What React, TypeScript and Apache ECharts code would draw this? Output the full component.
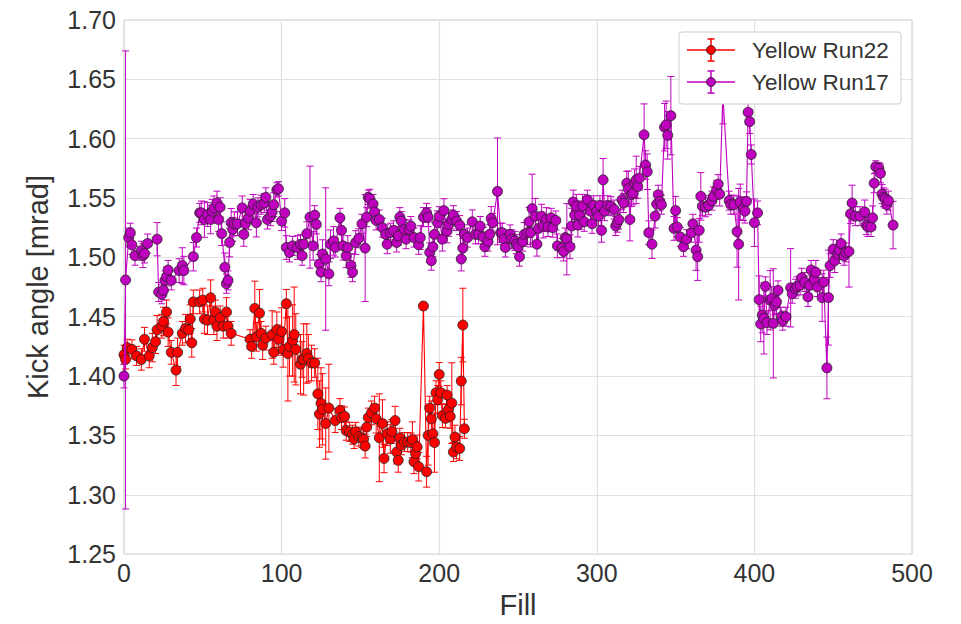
import React, { useEffect, useRef } from "react";
import * as echarts from "echarts";

// [fill, kick angle (mrad), error]
const run22: [number, number, number][] = [
  [0, 1.418, 0.008], [1, 1.414, 0.008], [2, 1.424, 0.007], [5, 1.4225, 0.008], [8, 1.417, 0.008],
  [11, 1.414, 0.009], [13, 1.431, 0.01], [16, 1.417, 0.01], [18, 1.424, 0.012], [20, 1.429, 0.01],
  [21, 1.439, 0.012], [24, 1.442, 0.01], [25, 1.446, 0.012], [27, 1.454, 0.01], [28, 1.437, 0.012],
  [30, 1.42, 0.01], [33, 1.405, 0.013], [34, 1.42, 0.012], [37, 1.436, 0.01], [39, 1.44, 0.012],
  [41, 1.439, 0.01], [42, 1.448, 0.012], [43, 1.428, 0.012], [44, 1.4625, 0.01], [48, 1.4625, 0.01],
  [50, 1.464, 0.01], [51, 1.448, 0.012], [53, 1.447, 0.012], [55, 1.466, 0.015], [57, 1.447, 0.012],
  [58, 1.454, 0.01], [59, 1.442, 0.012], [61, 1.449, 0.01], [63, 1.442, 0.01], [65, 1.454, 0.012],
  [66, 1.442, 0.01], [68, 1.436, 0.01], [80, 1.431, 0.008], [81, 1.425, 0.01], [83, 1.457, 0.023],
  [84, 1.433, 0.012], [86, 1.453, 0.02], [87, 1.436, 0.01], [88, 1.426, 0.012], [90, 1.432, 0.01],
  [94, 1.435, 0.02], [95, 1.42, 0.01], [97, 1.439, 0.015], [98, 1.431, 0.012], [100, 1.4375, 0.02],
  [101, 1.4225, 0.015], [103, 1.461, 0.012], [104, 1.419, 0.04], [105, 1.425, 0.025], [107, 1.43, 0.03],
  [108, 1.435, 0.04], [109, 1.4225, 0.03], [112, 1.41, 0.025], [113, 1.414, 0.015], [114, 1.414, 0.03],
  [116, 1.419, 0.025], [117, 1.415, 0.02], [119, 1.411, 0.015], [121, 1.411, 0.012], [123, 1.385, 0.03],
  [124, 1.368, 0.028], [125, 1.377, 0.03], [126, 1.372, 0.03], [128, 1.36, 0.03], [130, 1.373, 0.037],
  [134, 1.3625, 0.01], [137, 1.371, 0.01], [138, 1.365, 0.01], [140, 1.366, 0.008], [141, 1.354, 0.008],
  [143, 1.353, 0.008], [145, 1.3506, 0.008], [146, 1.347, 0.008], [147, 1.353, 0.008], [149, 1.349, 0.008],
  [151, 1.3478, 0.008], [152, 1.3467, 0.008], [153, 1.341, 0.01], [154, 1.357, 0.008], [155, 1.365, 0.008],
  [157, 1.369, 0.01], [159, 1.373, 0.01], [160, 1.364, 0.012], [162, 1.348, 0.037], [164, 1.36, 0.02],
  [165, 1.3306, 0.012], [167, 1.3514, 0.01], [169, 1.347, 0.012], [170, 1.3533, 0.01], [172, 1.3625, 0.012],
  [173, 1.336, 0.01], [174, 1.329, 0.01], [175, 1.348, 0.008], [176, 1.3417, 0.008], [178, 1.3444, 0.008],
  [180, 1.3444, 0.008], [182, 1.344, 0.008], [183, 1.3464, 0.015], [184, 1.3278, 0.01], [185, 1.3347, 0.01],
  [186, 1.3403, 0.01], [187, 1.3236, 0.012], [190, 1.459, 0.003], [192, 1.3194, 0.013], [193, 1.35, 0.025],
  [194, 1.373, 0.01], [195, 1.364, 0.015], [196, 1.3514, 0.01], [197, 1.344, 0.025], [198, 1.386, 0.01],
  [199, 1.38, 0.012], [200, 1.4014, 0.01], [201, 1.386, 0.01], [202, 1.3667, 0.01], [204, 1.3644, 0.008],
  [205, 1.384, 0.008], [206, 1.3722, 0.01], [207, 1.366, 0.01], [208, 1.3772, 0.034], [209, 1.336, 0.008],
  [210, 1.3486, 0.01], [211, 1.3403, 0.01], [213, 1.339, 0.01], [214, 1.3958, 0.02], [215, 1.443, 0.031],
  [216, 1.3556, 0.008],
];

const run17: [number, number, number][] = [
  [0, 1.4, 0.01], [1, 1.481, 0.193], [3, 1.5167, 0.008], [4, 1.5208, 0.008], [5, 1.5106, 0.008],
  [7, 1.5014, 0.008], [11, 1.5056, 0.008], [12, 1.5014, 0.01], [13, 1.5033, 0.008], [15, 1.5117, 0.008],
  [21, 1.5153, 0.014], [22, 1.4708, 0.008], [24, 1.4689, 0.008], [25, 1.4722, 0.008], [26, 1.4806, 0.008],
  [27, 1.4839, 0.008], [28, 1.4894, 0.008], [30, 1.4806, 0.008], [35, 1.4889, 0.01], [37, 1.4931, 0.015],
  [38, 1.4889, 0.012], [44, 1.5006, 0.012], [46, 1.5167, 0.008], [48, 1.5375, 0.008], [49, 1.5375, 0.01],
  [51, 1.5319, 0.015], [53, 1.5361, 0.01], [55, 1.5319, 0.012], [56, 1.5389, 0.01], [57, 1.5417, 0.01],
  [59, 1.5458, 0.01], [60, 1.5319, 0.01], [61, 1.5422, 0.008], [62, 1.52, 0.01], [64, 1.4917, 0.012],
  [65, 1.4778, 0.008], [66, 1.4806, 0.008], [67, 1.5125, 0.012], [68, 1.5292, 0.012], [69, 1.5236, 0.01],
  [70, 1.5283, 0.01], [72, 1.5283, 0.01], [75, 1.5417, 0.01], [76, 1.5194, 0.01], [77, 1.5283, 0.01],
  [79, 1.5333, 0.01], [80, 1.5389, 0.01], [82, 1.545, 0.008], [84, 1.5292, 0.012], [85, 1.5422, 0.008],
  [87, 1.5444, 0.008], [89, 1.5458, 0.008], [90, 1.5506, 0.008], [91, 1.5319, 0.008], [93, 1.5347, 0.008],
  [94, 1.5383, 0.008], [95, 1.5444, 0.01], [97, 1.5569, 0.006], [98, 1.5578, 0.006], [100, 1.5306, 0.008],
  [102, 1.5375, 0.012], [103, 1.5083, 0.01], [105, 1.5042, 0.008], [107, 1.5097, 0.008], [110, 1.5083, 0.01],
  [112, 1.5111, 0.008], [113, 1.5014, 0.008], [114, 1.5111, 0.008], [116, 1.52, 0.01], [118, 1.5339, 0.043],
  [120, 1.5097, 0.012], [121, 1.5356, 0.008], [122, 1.5278, 0.008], [124, 1.4944, 0.008], [125, 1.4875, 0.008],
  [126, 1.5028, 0.012], [128, 1.4986, 0.06], [130, 1.4861, 0.01], [131, 1.5111, 0.012], [133, 1.5139, 0.012],
  [134, 1.5083, 0.008], [137, 1.5333, 0.008], [138, 1.5228, 0.01], [139, 1.5097, 0.012], [141, 1.5014, 0.01],
  [142, 1.5083, 0.01], [144, 1.4931, 0.01], [145, 1.4875, 0.008], [147, 1.5125, 0.01], [149, 1.5161, 0.008],
  [151, 1.5283, 0.008], [153, 1.5078, 0.045], [154, 1.5339, 0.008], [155, 1.5506, 0.006], [156, 1.5494, 0.008],
  [158, 1.545, 0.008], [159, 1.5383, 0.008], [160, 1.5311, 0.008], [162, 1.5319, 0.008], [164, 1.525, 0.008],
  [166, 1.5194, 0.008], [167, 1.5111, 0.008], [169, 1.5208, 0.008], [171, 1.5228, 0.008], [173, 1.5125, 0.008],
  [174, 1.5181, 0.008], [175, 1.5339, 0.008], [176, 1.5306, 0.008], [178, 1.5236, 0.008], [179, 1.5153, 0.008],
  [181, 1.5236, 0.008], [182, 1.5264, 0.008], [184, 1.5167, 0.008], [187, 1.5106, 0.008], [188, 1.5167, 0.01],
  [190, 1.5339, 0.008], [192, 1.5375, 0.008], [193, 1.5339, 0.008], [194, 1.5042, 0.008], [195, 1.4972, 0.008],
  [196, 1.5089, 0.008], [197, 1.5194, 0.01], [199, 1.5292, 0.01], [200, 1.5347, 0.008], [202, 1.5153, 0.01],
  [203, 1.5394, 0.01], [205, 1.5222, 0.01], [206, 1.5278, 0.01], [208, 1.5319, 0.008], [209, 1.5356, 0.008],
  [211, 1.5306, 0.008], [213, 1.5272, 0.008], [214, 1.4986, 0.01], [215, 1.5078, 0.008], [216, 1.5194, 0.008],
  [218, 1.5167, 0.008], [221, 1.53, 0.01], [223, 1.5194, 0.008], [225, 1.5194, 0.008], [226, 1.5264, 0.008],
  [228, 1.5172, 0.008], [229, 1.5089, 0.008], [231, 1.5133, 0.008], [232, 1.5194, 0.008], [233, 1.5328, 0.01],
  [234, 1.5292, 0.008], [237, 1.5556, 0.045], [239, 1.5208, 0.008], [240, 1.5208, 0.008], [241, 1.5153, 0.008],
  [242, 1.5083, 0.008], [245, 1.5194, 0.008], [246, 1.5153, 0.008], [248, 1.5139, 0.008], [249, 1.5111, 0.008],
  [250, 1.5089, 0.008], [251, 1.5006, 0.008], [253, 1.5133, 0.008], [254, 1.5194, 0.01], [256, 1.5208, 0.01],
  [257, 1.53, 0.012], [258, 1.5208, 0.012], [259, 1.5411, 0.029], [261, 1.5347, 0.015], [262, 1.5111, 0.01],
  [263, 1.5244, 0.012], [265, 1.5347, 0.01], [266, 1.5264, 0.01], [268, 1.5319, 0.01], [269, 1.5256, 0.008],
  [271, 1.5333, 0.008], [272, 1.525, 0.008], [274, 1.5311, 0.008], [275, 1.5097, 0.01], [278, 1.5078, 0.008],
  [279, 1.505, 0.008], [280, 1.5167, 0.008], [281, 1.5153, 0.03], [283, 1.5089, 0.01], [284, 1.5264, 0.015],
  [285, 1.5467, 0.01], [286, 1.5356, 0.012], [287, 1.5431, 0.01], [288, 1.5272, 0.01], [289, 1.5356, 0.012],
  [291, 1.5431, 0.01], [292, 1.53, 0.008], [294, 1.5486, 0.008], [296, 1.5389, 0.008], [297, 1.5283, 0.008],
  [298, 1.5439, 0.008], [300, 1.5389, 0.008], [301, 1.5347, 0.008], [302, 1.5439, 0.008], [303, 1.5228, 0.01],
  [304, 1.5653, 0.018], [305, 1.5389, 0.008], [307, 1.5439, 0.008], [309, 1.5431, 0.008], [311, 1.5403, 0.008],
  [312, 1.5264, 0.008], [313, 1.5292, 0.008], [314, 1.5319, 0.008], [316, 1.5486, 0.008], [317, 1.5458, 0.008],
  [319, 1.5625, 0.01], [320, 1.5578, 0.015], [321, 1.5319, 0.018], [322, 1.5528, 0.01], [323, 1.5542, 0.01],
  [324, 1.5625, 0.012], [325, 1.5653, 0.02], [326, 1.5597, 0.01], [327, 1.5667, 0.01], [330, 1.6033, 0.026],
  [331, 1.5778, 0.012], [332, 1.5722, 0.015], [333, 1.5208, 0.01], [335, 1.5111, 0.012], [337, 1.5347, 0.01],
  [338, 1.545, 0.01], [339, 1.5528, 0.008], [340, 1.5472, 0.008], [341, 1.5444, 0.008], [343, 1.6097, 0.02],
  [344, 1.6117, 0.02], [345, 1.6028, 0.02], [347, 1.6194, 0.033], [349, 1.5244, 0.01], [350, 1.5394, 0.012],
  [351, 1.5256, 0.008], [353, 1.5172, 0.008], [355, 1.5089, 0.008], [357, 1.5153, 0.008], [360, 1.5208, 0.008],
  [361, 1.5283, 0.008], [363, 1.5061, 0.017], [364, 1.5006, 0.02], [365, 1.5228, 0.01], [366, 1.5514, 0.02],
  [367, 1.5431, 0.008], [369, 1.5422, 0.008], [371, 1.5439, 0.008], [373, 1.5478, 0.008], [374, 1.5514, 0.008],
  [376, 1.5569, 0.008], [377, 1.5617, 0.008], [378, 1.5533, 0.01], [380, 1.6375, 0.025], [384, 1.5478, 0.008],
  [385, 1.5444, 0.008], [387, 1.5444, 0.008], [389, 1.5217, 0.03], [390, 1.5111, 0.047], [391, 1.5467, 0.015],
  [393, 1.5411, 0.01], [394, 1.5389, 0.01], [395, 1.5472, 0.008], [396, 1.6222, 0.01], [397, 1.6144, 0.01],
  [398, 1.5867, 0.008], [400, 1.5292, 0.02], [402, 1.5375, 0.01], [403, 1.4644, 0.02], [404, 1.4439, 0.015],
  [405, 1.4514, 0.015], [406, 1.4486, 0.03], [407, 1.4756, 0.008], [408, 1.445, 0.01], [410, 1.4639, 0.025],
  [411, 1.4653, 0.01], [412, 1.4444, 0.046], [413, 1.4597, 0.008], [414, 1.4625, 0.01], [415, 1.4722, 0.008],
  [417, 1.45, 0.008], [418, 1.4467, 0.008], [420, 1.45, 0.008], [423, 1.4744, 0.033], [424, 1.4694, 0.008],
  [426, 1.4736, 0.008], [427, 1.4756, 0.008], [429, 1.4764, 0.008], [430, 1.4828, 0.008], [432, 1.4792, 0.008],
  [434, 1.4667, 0.008], [435, 1.4764, 0.008], [436, 1.4894, 0.008], [438, 1.4811, 0.008], [439, 1.4875, 0.01],
  [440, 1.475, 0.008], [443, 1.4661, 0.02], [444, 1.4792, 0.01], [446, 1.4069, 0.026], [447, 1.4661, 0.04],
  [448, 1.4931, 0.01], [450, 1.5069, 0.008], [451, 1.4972, 0.01], [453, 1.5028, 0.008], [454, 1.5061, 0.008],
  [455, 1.5117, 0.008], [457, 1.5014, 0.008], [458, 1.5042, 0.008], [460, 1.505, 0.03], [461, 1.5367, 0.008],
  [462, 1.5458, 0.015], [464, 1.5347, 0.008], [467, 1.5347, 0.008], [470, 1.5383, 0.01], [471, 1.5272, 0.008],
  [472, 1.5256, 0.008], [474, 1.5256, 0.008], [475, 1.5333, 0.01], [476, 1.5625, 0.008], [477, 1.5764, 0.005],
  [479, 1.575, 0.005], [480, 1.5708, 0.008], [481, 1.5533, 0.008], [482, 1.5506, 0.008], [483, 1.5494, 0.008],
  [484, 1.5444, 0.008], [485, 1.5478, 0.008], [488, 1.5272, 0.02],
];

const seriesNames = ["Yellow Run22", "Yellow Run17"];
const seriesColors = ["#ff0000", "#bf00bf"];
const xTicks = { min: 0, max: 500, interval: 100 };
const yTicks = { min: 1.25, max: 1.7, interval: 0.05 };

const FONT = "'Liberation Sans', Arial, sans-serif";
const TEXT = "#333333";

function errorBarSeries(data: [number, number, number][], color: string, z: number) {
  return {
    type: "custom",
    z,
    silent: true,
    encode: { x: 0, y: 1 },
    data,
    renderItem: (_params: any, api: any) => {
      const x = api.value(0);
      const y = api.value(1);
      const e = api.value(2);
      const top = api.coord([x, y + e]);
      const bot = api.coord([x, y - e]);
      const cap = 3.5;
      const st = { stroke: color, lineWidth: 1 };
      return {
        type: "group",
        children: [
          { type: "line", shape: { x1: top[0], y1: top[1], x2: bot[0], y2: bot[1] }, style: st },
          { type: "line", shape: { x1: top[0] - cap, y1: top[1], x2: top[0] + cap, y2: top[1] }, style: st },
          { type: "line", shape: { x1: bot[0] - cap, y1: bot[1], x2: bot[0] + cap, y2: bot[1] }, style: st },
        ],
      };
    },
  };
}

function lineSeries(name: string, data: [number, number, number][], color: string, z: number) {
  return {
    type: "line",
    name,
    z,
    data: data.map((d) => [d[0], d[1]]),
    symbol: "circle",
    symbolSize: 10,
    showSymbol: true,
    lineStyle: { color, width: 1.1 },
    itemStyle: { color, borderColor: "#222", borderWidth: 0.8 },
    silent: true,
  };
}

function legendItem(y: number, color: string, label: string) {
  const cx = 711;
  const st = { stroke: color, lineWidth: 1.5 };
  return [
    { type: "line", shape: { x1: 687, y1: y, x2: 735, y2: y }, style: st, z: 101 },
    { type: "line", shape: { x1: cx, y1: y - 11, x2: cx, y2: y + 11 }, style: st, z: 101 },
    { type: "line", shape: { x1: cx - 3.5, y1: y - 11, x2: cx + 3.5, y2: y - 11 }, style: st, z: 101 },
    { type: "line", shape: { x1: cx - 3.5, y1: y + 11, x2: cx + 3.5, y2: y + 11 }, style: st, z: 101 },
    { type: "circle", shape: { cx, cy: y, r: 4.5 }, style: { fill: color, stroke: "#222", lineWidth: 0.8 }, z: 102 },
    {
      type: "text",
      x: 752,
      y,
      style: { text: label, font: `22.5px ${FONT}`, fill: TEXT, verticalAlign: "middle", align: "left" },
      z: 102,
    },
  ];
}

export default function App() {
  const ref = useRef<HTMLDivElement>(null);
  useEffect(() => {
    if (!ref.current) return;
    const chart = echarts.init(ref.current, undefined, { renderer: "svg" });
    chart.setOption({
      animation: false,
      backgroundColor: "#ffffff",
      grid: {
        left: 124,
        top: 20,
        width: 788,
        height: 540,
        show: true,
        borderColor: "#cfcfcf",
        borderWidth: 1,
        backgroundColor: "#ffffff",
      },
      xAxis: {
        type: "value",
        min: xTicks.min,
        max: xTicks.max,
        interval: xTicks.interval,
        name: "Fill",
        nameLocation: "middle",
        nameGap: 31,
        nameTextStyle: { fontFamily: FONT, fontSize: 29, color: TEXT },
        axisLine: { show: false },
        axisTick: { show: false },
        axisLabel: { fontFamily: FONT, fontSize: 25, color: TEXT, margin: 6 },
        splitLine: { show: true, lineStyle: { color: "#e0e0e0", width: 1.2 } },
      },
      yAxis: {
        type: "value",
        min: yTicks.min,
        max: yTicks.max,
        interval: yTicks.interval,
        name: "Kick angle [mrad]",
        nameLocation: "middle",
        nameRotate: 90,
        nameGap: 72,
        nameTextStyle: { fontFamily: FONT, fontSize: 29, color: TEXT },
        axisLine: { show: false },
        axisTick: { show: false },
        axisLabel: {
          fontFamily: FONT,
          fontSize: 25,
          color: TEXT,
          margin: 8,
          formatter: (v: number) => v.toFixed(2),
        },
        splitLine: { show: true, lineStyle: { color: "#e0e0e0", width: 1.2 } },
      },
      series: [
        errorBarSeries(run22, seriesColors[0], 2),
        lineSeries(seriesNames[0], run22, seriesColors[0], 3),
        errorBarSeries(run17, seriesColors[1], 4),
        lineSeries(seriesNames[1], run17, seriesColors[1], 5),
      ],
      graphic: [
        {
          type: "rect",
          shape: { x: 679, y: 32, width: 222, height: 72, r: 3 },
          style: { fill: "#ffffff", stroke: "#cccccc", lineWidth: 1 },
          z: 100,
        },
        ...legendItem(50, seriesColors[0], seriesNames[0]),
        ...legendItem(82, seriesColors[1], seriesNames[1]),
      ],
    });
    return () => chart.dispose();
  }, []);
  return (
    <div
      ref={ref}
      style={{ position: "fixed", left: 0, top: 0, width: 961, height: 624, background: "#fff" }}
    />
  );
}
